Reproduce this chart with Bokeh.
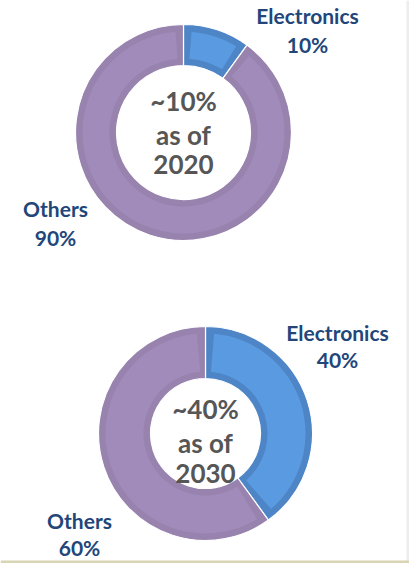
import numpy as np
from bokeh.plotting import figure
from bokeh.models import Range1d, ColumnDataSource
from bokeh.core.properties import value
from bokeh.embed import file_html
from bokeh.resources import INLINE

# ---- data ----
categories = ["Electronics", "Others"]
share_2020 = [10, 90]
share_2030 = [40, 60]
center_2020 = ["~10%", "as of", "2020"]
center_2030 = ["~40%", "as of", "2030"]

W, H = 409, 563
dark = ["#4D85C6", "#9883AE"]
light = ["#5A9AE0", "#A08BBA"]
LABEL = "#22467A"
CENTER = "#565656"
FONT = "Lato"

p = figure(width=W, height=H, output_backend="svg", toolbar_location=None,
           x_range=Range1d(0, W), y_range=Range1d(0, H), min_border=0)
p.axis.visible = False
p.grid.visible = False
p.outline_line_color = None
p.background_fill_color = "white"
p.border_fill_color = "white"

# page frame pieces
p.quad(left=[W - 3], right=[W], bottom=[0], top=[H], fill_color="#EDEDED", line_color=None)
p.quad(left=[0], right=[W], bottom=[0], top=[3], fill_color="#D8D4B4", line_color=None)


def donut(values, cx, cy, R, r, labels_txt, center_txt, center_ys, label_pos, gap=29):
    vals = np.array(values, dtype=float)
    frac = vals / vals.sum()
    ang = frac * 2 * np.pi
    # electronics goes clockwise from top; others continue
    ends = np.pi / 2 - np.concatenate([[0], np.cumsum(ang)[:-1]])
    starts = ends - ang
    src = ColumnDataSource(dict(x=[cx] * len(vals), y=[cy] * len(vals),
                                s=starts, e=ends, dark=dark, light=light))
    p.annular_wedge(x="x", y="y", inner_radius=r, outer_radius=R,
                    start_angle="s", end_angle="e", fill_color="dark",
                    line_color="white", line_width=1.2, source=src)
    inset = 7
    rm = (R + r) / 2
    da = inset / rm
    src2 = ColumnDataSource(dict(x=[cx] * len(vals), y=[cy] * len(vals),
                                 s=starts + da, e=ends - da, light=light))
    p.annular_wedge(x="x", y="y", inner_radius=r + inset, outer_radius=R - inset,
                    start_angle="s", end_angle="e", fill_color="light",
                    line_color=None, source=src2)
    # centre text
    p.text(x=[cx] * 3, y=center_ys, text=center_txt, text_align="center",
           text_baseline="middle", text_font=value(FONT), text_font_style="bold",
           text_font_size="26px", text_color=CENTER)
    # labels
    for (lx, ly), name, v in zip(label_pos, labels_txt, values):
        p.text(x=[lx, lx], y=[ly, ly - gap], text=[name, f"{v}%"], text_align="center",
               text_baseline="middle", text_font=value(FONT), text_font_style="bold",
               text_font_size="21px", text_color=LABEL)


donut(share_2020, 183, H - 132, 108, 67, categories, center_2020,
      [H - 100, H - 134, H - 164], [(307, H - 15), (55, H - 208)])
donut(share_2030, 205, H - 433, 107, 55, categories, center_2030,
      [H - 408, H - 442, H - 473], [(337, H - 332), (79, H - 520)], gap=27)

open("out.html", "w").write(file_html(p, INLINE))
